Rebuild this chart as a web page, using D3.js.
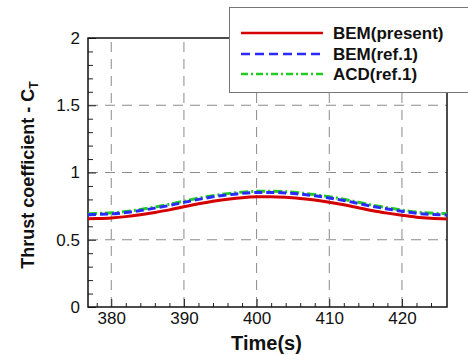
<!DOCTYPE html>
<html><head><meta charset="utf-8">
<script src="https://cdn.jsdelivr.net/npm/d3@7"></script>
<style>body{margin:0;background:#fff}svg{display:block}</style>
</head><body>
<svg id="c" width="468" height="355"></svg>
<script>
const time = [376.8,378,380,382,384,386,388,390,392,394,396,398,400,402,404,406,408,410,412,414,416,418,420,422,424,426.2];
const bemPresent = [0.657,0.658,0.662,0.672,0.686,0.703,0.722,0.745,0.767,0.786,0.801,0.813,0.819,0.820,0.816,0.807,0.795,0.779,0.760,0.738,0.716,0.698,0.682,0.668,0.660,0.655];
const bemRef = [0.686,0.688,0.692,0.702,0.717,0.735,0.755,0.778,0.800,0.819,0.834,0.845,0.851,0.852,0.848,0.839,0.827,0.811,0.792,0.770,0.748,0.729,0.712,0.697,0.689,0.684];
const acdRef = [0.694,0.696,0.700,0.710,0.725,0.743,0.764,0.787,0.809,0.828,0.843,0.854,0.860,0.861,0.857,0.848,0.836,0.820,0.801,0.779,0.757,0.738,0.721,0.706,0.698,0.693];
const xTicks = [380,390,400,410,420];
const yTicks = [0,0.5,1,1.5,2];
const yTickLabels = ["0","0.5","1","1.5","2"];
const seriesNames = ["BEM(present)","BEM(ref.1)","ACD(ref.1)"];

const svg = d3.select("#c");
const L=88,R=447,T=38,B=307;
const x = d3.scaleLinear().domain([376.8,426.2]).range([L,R]);
const y = d3.scaleLinear().domain([0,2]).range([B,T]);

// grid
const g = svg.append("g");
g.selectAll(".vg").data(xTicks).join("line")
  .attr("x1",d=>x(d)).attr("x2",d=>x(d)).attr("y1",B).attr("y2",T)
  .attr("stroke","#8a8a8a").attr("stroke-width",1).attr("stroke-dasharray","10,7");
g.selectAll(".hg").data(yTicks.filter(d=>d>0&&d<2)).join("line")
  .attr("y1",d=>y(d)).attr("y2",d=>y(d)).attr("x1",L).attr("x2",R)
  .attr("stroke","#8a8a8a").attr("stroke-width",1).attr("stroke-dasharray","10,7");

// axes with inward ticks
const xMinor = d3.range(378,426,2).filter(v=>v%10!==0);
const yMinor = d3.range(0.1,2,0.1).filter(v=>Math.abs(v*2-Math.round(v*2))>1e-6);
const xa = d3.axisBottom(x).tickValues(xTicks).tickSize(-8).tickPadding(5).tickFormat(d3.format("d"));
svg.append("g").attr("transform",`translate(0,${B})`).call(xa);
const xm = d3.axisBottom(x).tickValues(xMinor).tickSize(-4).tickFormat("");
svg.append("g").attr("transform",`translate(0,${B})`).call(xm).select(".domain").remove();
const ya = d3.axisLeft(y).tickValues(yTicks).tickSize(-8).tickPadding(8).tickFormat((d,i)=>yTickLabels[i]);
svg.append("g").attr("transform",`translate(${L},0)`).call(ya);
const ym = d3.axisLeft(y).tickValues(yMinor).tickSize(-5).tickFormat("");
svg.append("g").attr("transform",`translate(${L},0)`).call(ym).select(".domain").remove();
svg.selectAll(".tick text").attr("font-family","Liberation Sans, Arial, sans-serif").attr("font-size",17).attr("fill","#111");
svg.selectAll(".tick line").attr("stroke","#222");
svg.selectAll(".domain").remove();

// frame
svg.append("rect").attr("x",L).attr("y",T).attr("width",R-L).attr("height",B-T)
  .attr("fill","none").attr("stroke","#111").attr("stroke-width",1.5);

// lines
const line = (vals)=>d3.line().x((d,i)=>x(time[i])).y(d=>y(d)).curve(d3.curveMonotoneX)(vals);
svg.append("path").attr("d",line(acdRef)).attr("fill","none").attr("stroke","#22cc22").attr("stroke-width",3).attr("stroke-dasharray","9,3,2,3");
svg.append("path").attr("d",line(bemRef)).attr("fill","none").attr("stroke","#2a2aff").attr("stroke-width",3).attr("stroke-dasharray","8,4");
svg.append("path").attr("d",line(bemPresent)).attr("fill","none").attr("stroke","#d40000").attr("stroke-width",3);

// legend
const lg = svg.append("g");
lg.append("rect").attr("x",229.5).attr("y",7.5).attr("width",260).attr("height",85)
  .attr("fill","#fff").attr("stroke","#777").attr("stroke-width",1);
const styles = [
  {c:"#d40000",d:null},
  {c:"#2a2aff",d:"9,5"},
  {c:"#22cc22",d:"7,3,2,3"}
];
const rowsY=[33,54,74];
seriesNames.forEach((n,i)=>{
  lg.append("line").attr("x1",241).attr("x2",323).attr("y1",rowsY[i]).attr("y2",rowsY[i])
    .attr("stroke",styles[i].c).attr("stroke-width",2.5).attr("stroke-dasharray",styles[i].d);
  lg.append("text").attr("x",333).attr("y",rowsY[i]+6).text(n)
    .attr("font-family","Liberation Sans, Arial, sans-serif").attr("font-weight","bold").attr("font-size",17).attr("fill","#111");
});

// axis titles
svg.append("text").attr("x",(L+R)/2-1).attr("y",350).attr("text-anchor","middle")
  .attr("font-family","Liberation Sans, Arial, sans-serif").attr("font-weight","bold").attr("font-size",20).attr("fill","#111").text("Time(s)");
const yt = svg.append("text").attr("transform","translate(34,175) rotate(-90)").attr("text-anchor","middle")
  .attr("font-family","Liberation Sans, Arial, sans-serif").attr("font-weight","bold").attr("font-size",18).attr("fill","#111");
yt.append("tspan").text("Thrust coefficient - C");
yt.append("tspan").text("T").attr("font-size",12).attr("dy",4);
</script>
</body></html>
